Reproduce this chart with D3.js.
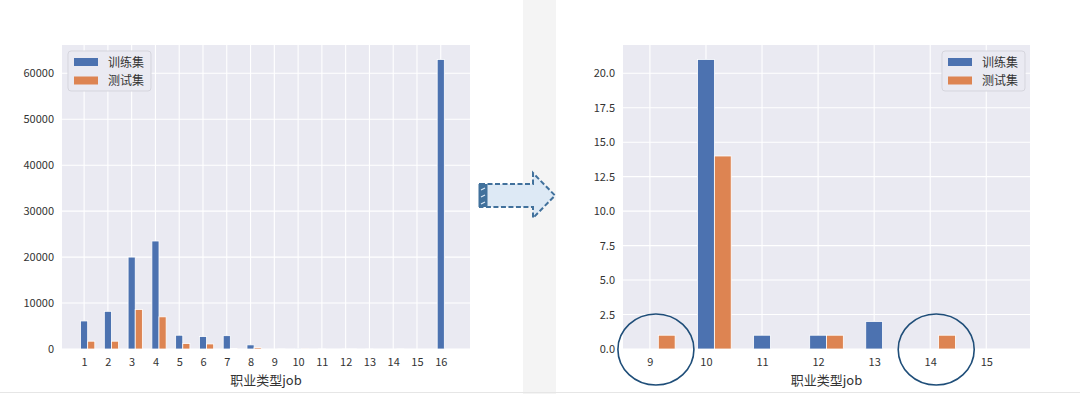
<!DOCTYPE html>
<html><head><meta charset="utf-8">
<script src="https://cdn.jsdelivr.net/npm/d3@7"></script>
<style>
body{margin:0;background:#fff;}
svg{display:block;}
text{font-family:"Noto Sans CJK SC","DejaVu Sans",sans-serif;}
</style></head>
<body>
<script>
// ---- data ----
const leftJobs = [1,2,3,4,5,6,7,8,9,10,11,12,13,14,15,16];
const leftTrain = [6100,8200,20000,23500,3000,2700,2900,900,0,21,1,1,2,0,0,63000];
const leftTest  = [1700,1700,8600,7000,1200,1100,100,300,1,14,0,1,0,1,0,0];
const rightJobs = [9,10,11,12,13,14,15];
const rightTrain = [0,21,1,1,2,0,0];
const rightTest  = [1,14,0,1,0,1,0];
const leftYTicks = [0,10000,20000,30000,40000,50000,60000];
const rightYTicks = [0,2.5,5,7.5,10,12.5,15,17.5,20];
const seriesNames = ["训练集","测试集"];
const xLabel = "职业类型job";
const circledJobs = [9,14];

const W=1080,H=394;
const colors=["#4c72b0","#dd8452"];
const svg=d3.select("body").append("svg").attr("width",W).attr("height",H);

// gray stripe between
svg.append("rect").attr("x",523).attr("y",0).attr("width",33).attr("height",H).attr("fill","#f4f4f4");
svg.append("line").attr("x1",0).attr("x2",W).attr("y1",392.5).attr("y2",392.5).attr("stroke","#e6e6e6");

function chart(opts){
  const {x0,x1,y0,y1,jobs,train,test,ymax,yTicks,yFmt,xdom,legendRight}=opts;
  const g=svg.append("g");
  const x=d3.scaleLinear().domain(xdom).range([x0,x1]);
  const y=d3.scaleLinear().domain([0,ymax]).range([y1,y0]);
  g.append("rect").attr("x",x0).attr("y",y0).attr("width",x1-x0).attr("height",y1-y0).attr("fill","#eaeaf2");
  // grid
  g.selectAll(".gy").data(yTicks).join("line").attr("x1",x0).attr("x2",x1)
    .attr("y1",d=>y(d)).attr("y2",d=>y(d)).attr("stroke","#fff").attr("stroke-width",1.1);
  g.selectAll(".gx").data(jobs).join("line").attr("y1",y0).attr("y2",y1)
    .attr("x1",d=>x(d)).attr("x2",d=>x(d)).attr("stroke","#fff").attr("stroke-width",1.1);
  const w=0.3;
  [train,test].forEach((vals,si)=>{
    g.selectAll(".b"+si).data(jobs).join("rect")
      .attr("x",d=>x(d-w/2+si*w)).attr("width",x(w)-x(0))
      .attr("y",(d,i)=>y(vals[i])).attr("height",(d,i)=>y(0)-y(vals[i]))
      .attr("fill",colors[si]).attr("stroke",vals===vals?"#fff":"none").attr("stroke-width",(d,i)=>vals[i]>0?0.8:0);
  });
  // axes
  const ya=d3.axisLeft(y).tickValues(yTicks).tickFormat(yFmt).tickSize(0).tickPadding(8);
  g.append("g").attr("transform",`translate(${x0},0)`).call(ya).call(s=>{s.select(".domain").remove();
    s.selectAll("text").attr("fill","#333").attr("font-size",11);});
  const xa=d3.axisBottom(x).tickValues(jobs).tickFormat(d3.format("d")).tickSize(0).tickPadding(9);
  g.append("g").attr("transform",`translate(0,${y1})`).call(xa).call(s=>{s.select(".domain").remove();
    s.selectAll("text").attr("fill","#333").attr("font-size",11);});
  g.append("text").attr("x",(x0+x1)/2).attr("y",y1+36).attr("text-anchor","middle")
    .attr("font-size",13).attr("fill","#333").text(xLabel);
  // legend
  const lx=legendRight? x1-88 : x0+6, ly=y0+6;
  g.append("rect").attr("x",lx).attr("y",ly).attr("width",83).attr("height",40).attr("rx",3)
    .attr("fill","#eaeaf2").attr("stroke","#d5d5dd").attr("stroke-width",1);
  seriesNames.forEach((n,i)=>{
    g.append("rect").attr("x",lx+6).attr("y",ly+7+i*18.5).attr("width",24).attr("height",8).attr("fill",colors[i]);
    g.append("text").attr("x",lx+40).attr("y",ly+15.5+i*18.5).attr("font-size",12).attr("fill","#333").text(n);
  });
  return {x,y};
}

chart({x0:62,x1:470,y0:45,y1:349,jobs:leftJobs,train:leftTrain,test:leftTest,
  ymax:d3.max(leftTrain)*1.05,yTicks:leftYTicks,yFmt:d3.format("d"),xdom:[0.07,17.23],legendRight:false});
const r=chart({x0:623,x1:1030,y0:45,y1:349,jobs:rightJobs,train:rightTrain,test:rightTest,
  ymax:d3.max(rightTrain)*1.05,yTicks:rightYTicks,yFmt:d3.format(".1f"),xdom:[8.52,15.78],legendRight:true});

// circles
svg.selectAll(".circ").data(circledJobs).join("ellipse")
  .attr("cx",d=>r.x(d)+6).attr("cy",349.5).attr("rx",38).attr("ry",35.5)
  .attr("fill","none").attr("stroke","#1f4e79").attr("stroke-width",1.6);

// arrow
const ag=svg.append("g");
ag.append("path").attr("d","M480,184 L533,184 L533,173 L555,195.5 L533,218 L533,207 L480,207 Z")
  .attr("fill","#dde9f5").attr("stroke","#41719c").attr("stroke-width",2).attr("stroke-dasharray","5,2.5");
ag.append("rect").attr("x",478.5).attr("y",184).attr("width",9).attr("height",23).attr("fill","#41719c");
ag.append("path").attr("d","M481,190 L485,188 M481,197 L485,195 M481,204 L485,202").attr("stroke","#dde9f5").attr("stroke-width",1.2);
</script>
</body></html>
